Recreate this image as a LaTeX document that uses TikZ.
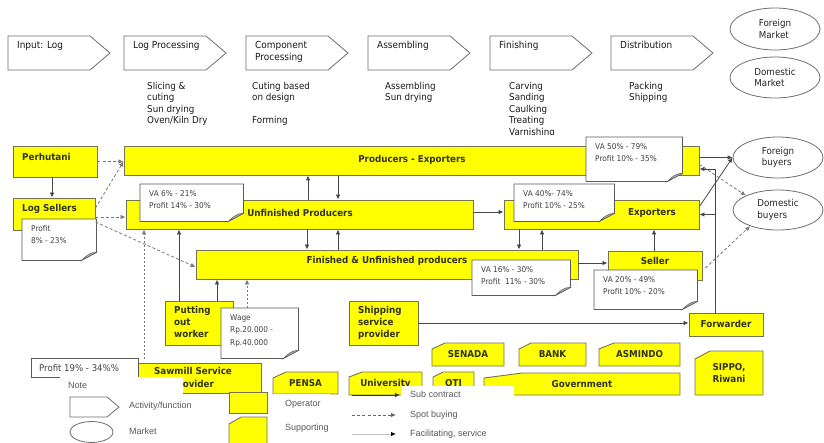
\documentclass[tikz,border=0pt]{standalone}
\usepackage{fontspec}
\setmainfont{DejaVu Sans}[FakeStretch=0.92]
\newfontfamily\legendfont{Liberation Sans}
\usetikzlibrary{arrows.meta,shapes.geometric}

\definecolor{boxyellow}{RGB}{255,255,0}
\definecolor{boxedge}{RGB}{115,115,80}
\definecolor{boxtext}{RGB}{50,50,25}
\definecolor{linegray}{RGB}{70,70,70}
\definecolor{dashgray}{RGB}{120,120,120}
\definecolor{notetext}{RGB}{65,65,65}
\definecolor{noteline}{RGB}{90,90,90}
\definecolor{curlgray}{RGB}{175,175,175}
\definecolor{actedge}{RGB}{110,110,110}

\tikzset{
  ybox/.style={draw=boxedge, fill=boxyellow, line width=0.9pt, inner sep=0pt},
  ylabel/.style={font=\bfseries\fontsize{9.5}{12}\selectfont, text=boxtext, inner sep=0pt, align=left},
  actshape/.style={draw=actedge, fill=white, line width=0.8pt},
  actlabel/.style={font=\fontsize{9.7}{12}\selectfont, text=black!90, inner sep=0pt, align=left, anchor=north west},
  desc/.style={font=\fontsize{9.5}{11.5}\selectfont, text=black!90, inner sep=0pt, align=left, anchor=north west},
  market/.style={ellipse, draw=actedge, fill=white, line width=0.8pt, inner sep=0pt,
    font=\fontsize{9.5}{11.5}\selectfont, text=black!85, align=left},
  notebg/.style={inner sep=0pt, anchor=north west},
  noteedge/.style={draw=noteline, fill=white, line width=0.8pt},
  notelabel/.style={font=\fontsize{8}{12.5}\selectfont, text=notetext, inner sep=0pt, align=left, anchor=north west},
  headtip/.style={-{Latex[length=5pt,width=4.5pt]}},
  flow/.style={draw=linegray, line width=0.8pt, headtip},
  spot/.style={draw=dashgray, line width=0.8pt, dash pattern=on 3pt off 2.2pt, headtip},
  spotfine/.style={draw=dashgray, line width=0.8pt, dash pattern=on 2pt off 2pt, headtip},
  legendtext/.style={font=\legendfont\fontsize{9}{11}\selectfont, text=black!65, inner sep=0pt, anchor=west},
}

% activity step: name, left x, label
\newcommand\activitystep[3]{%
  \draw[actshape] (#2,36) -- ++(82,0) -- ++(20,17) -- ++(-20,17) -- ++(-82,0) -- cycle;
  \node[actlabel] (#1) at (#2+9,41) {#3};
}

% supporting institution: name, x1, y1, x2, y2, chamfer x, chamfer y, label
\newcommand\supportbox[8]{%
  \filldraw[ybox] (#2,#3+#7) -- (#2+#6,#3) -- (#4,#3) -- (#4,#5) -- (#2,#5) -- cycle;
  \node[ylabel] (#1) at ({(#2+#4)/2},{(#3+#5)/2}) {#8};
}

% note card with folded corner: name, x1, y1, x2, y2, text
\newcommand\notecard[6]{%
  \node[notebg, minimum width={#4pt-#2pt}, minimum height={#5pt-#3pt}] (#1) at (#2,#3) {};
  \path[noteedge] (#1.north west) -- (#1.north east) -- ([yshift=8pt]#1.south east)
    -- ([xshift=-15pt]#1.south east) -- (#1.south west) -- cycle;
  \filldraw[draw=noteline, fill=curlgray, line width=0.5pt]
    ([xshift=-15pt]#1.south east) -- ([yshift=8pt]#1.south east)
    .. controls ([xshift=-6pt,yshift=8.5pt]#1.south east) and ([xshift=-11pt,yshift=4pt]#1.south east)
    .. ([xshift=-15pt]#1.south east) -- cycle;
  \node[notelabel] (#1text) at ([xshift=9pt,yshift=-6pt]#1.north west) {#6};
}

\begin{document}
\begin{tikzpicture}[x=1pt,y=-1pt]
\useasboundingbox (0,0) rectangle (824,442);
\clip (0,0) rectangle (824,442);
\fill[white] (0,0) rectangle (824,442);

% ---- value chain activities ----
\activitystep{actinput}{8}{Input: Log}
\activitystep{actlog}{124}{Log Processing}
\activitystep{actcomp}{246}{Component\\Processing}
\activitystep{actasm}{368}{Assembling}
\activitystep{actfin}{490}{Finishing}
\activitystep{actdist}{611}{Distribution}

\begin{scope}
  \clip (140,78) rectangle (360,125.5);
  \node[desc] (desclog) at (147,82) {Slicing \&\\cuting\\Sun drying\\Oven/Kiln Dry};
  \node[desc] (desccomp) at (252,82) {Cuting based\\on design\\[11.5pt]Forming};
\end{scope}
\node[desc] (descasm) at (385,82) {Assembling\\Sun drying};
\begin{scope}
  \clip (500,78) rectangle (600,134);
  \node[desc] (descfin) at (509,82) {Carving\\Sanding\\Caulking\\Treating\\Varnishing};
\end{scope}
\node[desc] (descdist) at (629,82) {Packing\\Shipping};

% ---- markets ----
\node[market, minimum width=90pt, minimum height=42pt] (foreignmkt) at (775,29) {Foreign\\Market};
\node[market, minimum width=90pt, minimum height=41pt] (domesticmkt) at (775,77.5) {Domestic\\Market};
\node[market, minimum width=90pt, minimum height=41pt] (fbuy) at (778,157.5) {Foreign\\buyers};
\node[market, minimum width=90pt, minimum height=40pt] (dbuy) at (778,210) {Domestic\\buyers};

% ---- operators ----
\node[ybox, minimum width=84pt, minimum height=31pt] (perhutani) at (55,161.5) {};
\node[ylabel, anchor=west] (perhutanilbl) at (22,157) {Perhutani};
\node[ybox, minimum width=82pt, minimum height=32pt] (logsellers) at (54,214) {};
\node[ylabel, anchor=west] (logsellerslbl) at (22,209) {Log Sellers};
\node[ybox, minimum width=575pt, minimum height=29pt] (prodexp) at (411.5,160.5) {};
\node[ylabel] (prodexplbl) at (412,160) {Producers - Exporters};
\node[ybox, minimum width=347pt, minimum height=29pt] (unfin) at (299.5,214.5) {};
\node[ylabel] (unfinlbl) at (300,213) {Unfinished Producers};
\node[ybox, minimum width=195pt, minimum height=29pt] (exporters) at (601.5,214.5) {};
\node[ylabel] (exporterslbl) at (652,213) {Exporters};
\node[ybox, minimum width=382pt, minimum height=29pt] (finunf) at (387,264.5) {};
\node[ylabel] (finunflbl) at (387,261) {Finished \& Unfinished producers};
\node[ybox, minimum width=94pt, minimum height=29pt] (seller) at (655,265.5) {};
\node[ylabel] (sellerlbl) at (655,261) {Seller};
\node[ybox, minimum width=74pt, minimum height=23pt] (forwarder) at (726,324.5) {};
\node[ylabel] (forwarderlbl) at (726,324) {Forwarder};
\node[ybox, minimum width=68pt, minimum height=44pt] (worker) at (199,323) {};
\node[ylabel, anchor=north west] (workerlbl) at (174,306) {Putting\\out\\worker};
\node[ybox, minimum width=69pt, minimum height=44pt] (shipping) at (383.5,323) {};
\node[ylabel, anchor=north west] (shippinglbl) at (358,306) {Shipping\\service\\provider};
\node[ybox, minimum width=123pt, minimum height=30pt] (sawmill) at (199.5,378) {};
\node[ylabel, anchor=north, align=center, font=\bfseries\fontsize{9.5}{13}\selectfont] (sawmilllbl) at (193,367) {Sawmill Service\\Provider};

% ---- supporting institutions ----
\supportbox{senada}{432}{343}{504}{366}{13}{6}{SENADA}
\supportbox{bank}{519}{343}{586}{366}{12}{6}{BANK}
\supportbox{asmindo}{599}{343}{680}{366}{15}{6}{ASMINDO}
\supportbox{sippo}{695}{351}{763}{395}{15}{8}{SIPPO,\\Riwani}
\supportbox{pensa}{273}{372}{338}{394}{13}{6}{PENSA}
\supportbox{univ}{349}{372}{422}{395}{13}{5}{University}
\supportbox{oti}{433}{372}{474}{395}{10}{5}{OTI}
\supportbox{govt}{484}{373}{680}{395}{38}{5}{Government}

% ---- value added / profit notes ----
\notecard{nls}{22}{219}{96}{260}{Profit\\8\% - 23\%}
\notecard{nunf}{140}{184}{243}{221}{VA 6\% - 21\%\\Profit 14\% - 30\%}
\notecard{nexp}{514}{184}{614}{221}{VA 40\%- 74\%\\Profit 10\% - 25\%}
\notecard{npe}{586}{137}{682}{181}{VA 50\% - 79\%\\Profit 10\% - 35\%}
\notecard{nfu}{472}{260}{570}{295}{VA 16\% - 30\%\\Profit~ 11\% - 30\%}
\notecard{nsel}{594}{270}{697}{309}{VA 20\% - 49\%\\Profit 10\% - 20\%}
\notecard{nwage}{221}{308}{298}{358}{Wage\\Rp.20.000 -\\Rp.40.000}
\node[notebg, minimum width=107pt, minimum height=19pt, draw=noteline, fill=white, line width=0.8pt] (nsaw) at (31,358) {};
\node[notelabel, anchor=west, font=\fontsize{9.3}{11}\selectfont] (nsawtext) at (39,368) {Profit 19\% - 34\%\%};

% ---- flows ----
\draw[spot] (perhutani.east) -- (perhutani.east -| prodexp.west);
\draw[flow] ([xshift=-3pt]perhutani.south) -- ([xshift=-3pt]perhutani.south |- logsellers.north);
\draw[spot] ([yshift=6pt]logsellers.east) -- ([yshift=-1pt]prodexp.west);
\draw[spot] ([yshift=-3pt]logsellers.east) -- ([yshift=-3pt]logsellers.east -| unfin.west);
\draw[spot] ([yshift=-8pt]logsellers.east) -- ([yshift=-2.5pt]finunf.west);
\draw[flow] ([xshift=8.5pt]unfin.north) -- ([xshift=8.5pt]unfin.north |- prodexp.south);
\draw[flow] ([xshift=38.5pt]unfin.north |- prodexp.south) -- ([xshift=38.5pt]unfin.north);
\draw[flow] ([xshift=7.5pt]unfin.south) -- ([xshift=7.5pt]unfin.south |- finunf.north);
\draw[flow] ([xshift=38.5pt]unfin.south |- finunf.north) -- ([xshift=38.5pt]unfin.south);
\draw[flow] ([yshift=2.5pt]unfin.east) -- ([yshift=2.5pt]unfin.east -| exporters.west);
\draw[flow] ([xshift=-82.5pt]exporters.south) -- ([xshift=-82.5pt]exporters.south |- finunf.north);
\draw[flow] ([xshift=-59.5pt]exporters.south |- finunf.north) -- ([xshift=-59.5pt]exporters.south);
\draw[flow] ([yshift=1.5pt]finunf.east) -- ([yshift=1.5pt]finunf.east -| seller.west);
\draw[flow] ([xshift=-1pt]seller.north) -- ([xshift=-1pt]seller.north |- exporters.south);
\draw[flow] ([yshift=-7pt]exporters.north east) -- (fbuy.west);
\draw[flow] (fbuy.west -| prodexp.east) -- (fbuy.west);
\draw[spot] ([yshift=-4pt]prodexp.east) -- (dbuy.north west);
\draw[spot] ([xshift=3pt,yshift=-2.5pt]seller.east) -- (dbuy.210);
\draw[flow] ([xshift=-11pt]forwarder.north) |- ([yshift=-8.5pt]prodexp.east);
\draw[flow] ([xshift=-11pt]forwarder.north |- exporters.east) -- (exporters.east);
\draw[flow] (shipping.east) -- (shipping.east -| forwarder.west);
\draw[flow] ([xshift=18pt]worker.north) -- ([xshift=18pt]worker.north |- finunf.south);
\draw[flow] ([xshift=-20pt]worker.north) -- ([xshift=-20pt]worker.north |- unfin.south);
\draw[spotfine] ([xshift=26pt]nwage.north west) -- ([xshift=26pt]nwage.north west |- finunf.south);
\draw[spotfine] ([xshift=-55.5pt,yshift=4pt]sawmill.north) -- ([xshift=-55.5pt]sawmill.north |- unfin.south);

% ---- legend ----
\fill[white] (60,377) rectangle (183,442);
\fill[white] (272,393.5) rectangle (330,442);
\fill[white] (401,386) rectangle (514,442);
\node[legendtext] (notehdr) at (68,385) {Note};
\draw[actshape] (70,397) -- (107,397) -- (119,407) -- (107,417) -- (70,417) -- cycle;
\node[legendtext] (lgact) at (129,406) {Activity/function};
\node[market, minimum width=43pt, minimum height=21pt] (lgmarket) at (91.5,432) {};
\node[legendtext] (lgmkt) at (129,431) {Market};
\node[ybox, minimum width=38pt, minimum height=21pt] (lgop) at (248,402.5) {};
\node[legendtext] (lgoptext) at (285,404) {Operator};
\supportbox{lgsup}{229}{417}{267}{446}{12}{7}{}
\node[legendtext] (lgsuptext) at (285,428) {Supporting};
\coordinate (subA) at (352,395);
\coordinate (subB) at (400,395);
\draw[flow, draw=black!80] (subA) -- (subB);
\node[legendtext] (lgsub) at (410,394) {Sub contract};
\coordinate (spotA) at (352,415);
\coordinate (spotB) at (396,415);
\draw[spot, draw=black!60] (spotA) -- (spotB);
\node[legendtext] (lgspot) at (410,415) {Spot buying};
\coordinate (facA) at (352,434);
\coordinate (facB) at (396,434);
\draw[draw=black!25, line width=0.8pt, -{Latex[length=5pt,width=4.5pt,color=black]}] (facA) -- (facB);
\node[legendtext] (lgfac) at (410,434) {Facilitating, service};
\end{tikzpicture}
\end{document}
